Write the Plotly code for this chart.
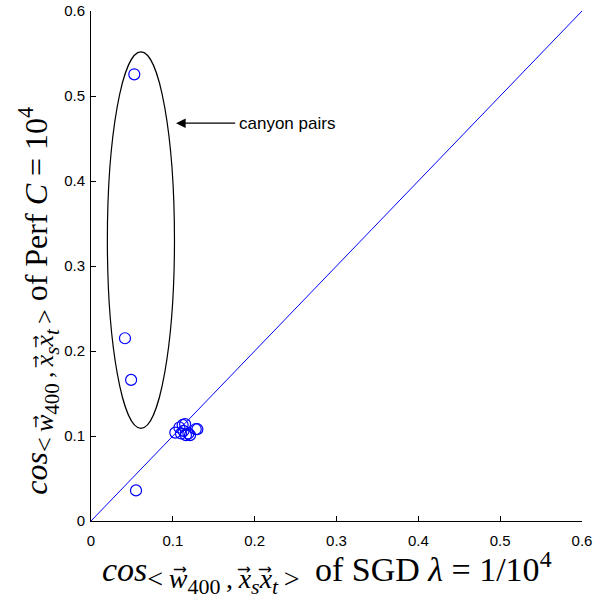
import plotly.graph_objects as go

x_sgd = [0.0529, 0.0415, 0.049, 0.055, 0.103, 0.108, 0.112, 0.115, 0.113, 0.116, 0.119, 0.121, 0.128, 0.130, 0.110]
y_perf = [0.5255, 0.215, 0.166, 0.036, 0.104, 0.110, 0.113, 0.114, 0.106, 0.101, 0.103, 0.101, 0.108, 0.108, 0.103]
diag = [0, 0.6]
tick_vals = [0, 0.1, 0.2, 0.3, 0.4, 0.5, 0.6]
tick_text = ["0", "0.1", "0.2", "0.3", "0.4", "0.5", "0.6"]
ellipse_box = dict(x0=0.020, x1=0.102, y0=0.109, y1=0.552)
arrow_head = (0.1039, 0.468)
arrow_tail = (0.178, 0.468)
label = "canyon pairs"

fig = go.Figure()
fig.add_trace(go.Scatter(x=diag, y=diag, mode="lines",
                         line=dict(color="#0000ff", width=1), hoverinfo="skip"))
fig.add_trace(go.Scatter(x=x_sgd, y=y_perf, mode="markers",
                         marker=dict(symbol="circle-open", size=11, color="#0000ff",
                                     line=dict(width=1.2, color="#0000ff"))))

fig.add_shape(type="circle", xref="x", yref="y", line=dict(color="black", width=1.2),
              **ellipse_box)
fig.add_annotation(x=arrow_head[0], y=arrow_head[1], ax=arrow_tail[0], ay=arrow_tail[1],
                   xref="x", yref="y", axref="x", ayref="y", text="", showarrow=True,
                   arrowhead=2, arrowsize=1.6, arrowwidth=1.2, arrowcolor="black")
fig.add_annotation(x=arrow_tail[0], y=arrow_tail[1], xref="x", yref="y", text=label,
                   showarrow=False, xanchor="left", yanchor="middle",
                   font=dict(family="Liberation Sans, Arial", size=17, color="black"))


def make_sub(a, b):
    s1 = "<span style='font-size:%dpx'>" % a
    s2 = "<span style='font-size:%dpx'>" % b
    return ("<sub>" + s1 + "&lt;&#8201;<i>w</i>&#8407;<sub>" + s2 + "400</span></sub>&#8201;,&#8201;"
            "<i>x</i>&#8407;<sub>" + s2 + "<i>s</i></span></sub>"
            "<i>x</i>&#8407;<sub>" + s2 + "<i>t</i></span></sub>&#8201;&gt;</span></sub>")


xtitle = "<i>cos</i>" + make_sub(28, 22) + "&#8201; of SGD <i>λ</i> = 1/10<sup>4</sup>"
ytitle = "<i>cos</i>" + make_sub(26, 21) + " of Perf <i>C</i> = 10<sup>4</sup>"
serif = "Liberation Serif, Times New Roman"

fig.add_annotation(text=xtitle, xref="paper", yref="paper", x=0.481, y=-0.1,
                   xanchor="center", yanchor="middle", showarrow=False,
                   font=dict(family=serif, size=34, color="black"))
fig.add_annotation(text=ytitle, xref="paper", yref="paper", x=-0.106, y=0.432,
                   xanchor="center", yanchor="middle", textangle=-90, showarrow=False,
                   font=dict(family=serif, size=32, color="black"))

axis_common = dict(range=[0, 0.6], tickvals=tick_vals, ticktext=tick_text,
                   ticks="inside", ticklen=5, tickcolor="black", showgrid=False,
                   zeroline=False, showline=True, linecolor="black", linewidth=1,
                   automargin=False,
                   tickfont=dict(family="Liberation Sans, Arial", size=15, color="black"))

fig.update_layout(
    width=602, height=598,
    margin=dict(l=91, r=20, t=11, b=77),
    plot_bgcolor="white", paper_bgcolor="white",
    showlegend=False,
    xaxis=dict(**axis_common, ticklabelstandoff=6),
    yaxis=dict(**axis_common, ticklabelstandoff=2),
)
fig.write_html("out.html")
